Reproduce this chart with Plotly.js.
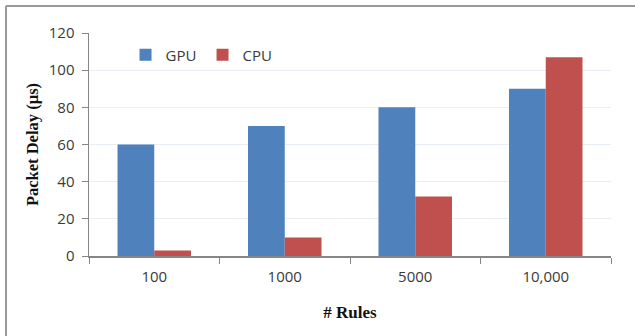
<!DOCTYPE html>
<html>
<head>
<meta charset="utf-8">
<script src="https://cdn.plot.ly/plotly-3.0.1.min.js"></script>
<style>html,body{margin:0;padding:0;background:#fff;}#chart{width:635px;height:336px;}</style>
</head>
<body>
<div id="chart"></div>
<script>
const categories = ["100", "1000", "5000", "10,000"];
const gpuDelay = [60, 70, 80, 90];
const cpuDelay = [3, 10, 32, 107];
const yTicks = [0, 20, 40, 60, 80, 100, 120];

const tickFont = {family: "Open Sans, Liberation Sans, sans-serif", size: 15, color: "#3a3a3a"};
const titleFont = {family: "Liberation Serif, serif", size: 17, color: "#111"};

const traces = [
  {type: "bar", name: "GPU", x: categories, y: gpuDelay, marker: {color: "#4F81BD", line: {width: 0}}},
  {type: "bar", name: "CPU", x: categories, y: cpuDelay, marker: {color: "#C0504D", line: {width: 0}}}
];

const layout = {
  width: 635, height: 336,
  margin: {l: 89, r: 24, t: 33, b: 80},
  paper_bgcolor: "#fff", plot_bgcolor: "#fff",
  barmode: "group", bargap: 0.437, bargroupgap: 0,
  showlegend: true,
  legend: {orientation: "h", x: 0.07, y: 0.901, xanchor: "left", yanchor: "middle",
           entrywidth: 32, entrywidthmode: "pixels", itemwidth: 30,
           font: {family: "Open Sans, Liberation Sans, sans-serif", size: 15, color: "#3a3a3a"},
           bgcolor: "rgba(0,0,0,0)", traceorder: "normal"},
  xaxis: {
    type: "category", tickson: "boundaries", ticks: "outside", ticklen: 6, tickcolor: "#868686",
    showline: true, linecolor: "#868686", linewidth: 1.5, showgrid: false, zeroline: false,
    tickfont: tickFont, ticklabelstandoff: 6,
    title: {text: "<b># Rules</b>", font: titleFont, standoff: 21}
  },
  yaxis: {
    range: [0, 120], tickvals: yTicks, ticks: "outside", ticklen: 6, tickcolor: "#868686",
    showline: true, linecolor: "#868686", linewidth: 1.5, showgrid: true, gridcolor: "#e9eef5", gridwidth: 1,
    zeroline: false, tickfont: tickFont, ticklabelstandoff: 4,
    title: {text: "<b>Packet Delay (µs)</b>", font: {family: "Liberation Serif, serif", size: 16.5, color: "#111"}, standoff: 6},
    automargin: false
  },
  shapes: [
    {type: "line", xref: "paper", yref: "paper", x0: -0.159, x1: 1.05, y0: 1.121, y1: 1.121, line: {color: "#9a9a9a", width: 2}},
    {type: "line", xref: "paper", yref: "paper", x0: -0.159, x1: -0.159, y0: 1.121, y1: -0.37, line: {color: "#9a9a9a", width: 2}}
  ]
};

Plotly.newPlot("chart", traces, layout, {displayModeBar: false, staticPlot: true});
</script>
</body>
</html>
